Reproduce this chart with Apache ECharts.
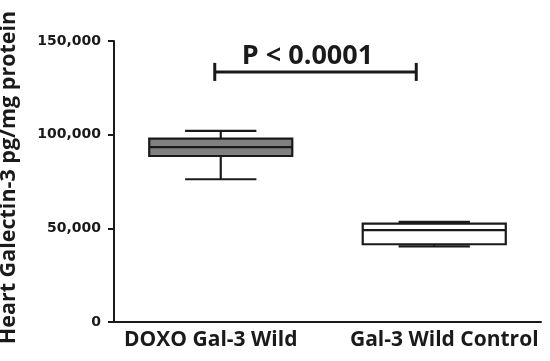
<!DOCTYPE html>
<html>
<head>
<meta charset="utf-8">
<script src="https://cdn.jsdelivr.net/npm/echarts@6/dist/echarts.min.js"></script>
<style>
html,body{margin:0;padding:0;background:#fff;}
#chart{width:550px;height:361px;}
</style>
</head>
<body>
<div id="chart"></div>
<script>
// values
var categories = ['DOXO Gal-3 Wild', 'Gal-3 Wild Control'];
var whiskerLow = [76200, 40400];
var q1 = [88600, 41500];
var median = [93300, 49000];
var q3 = [97900, 52500];
var whiskerHigh = [102000, 53400];
var yTicks = [0, 50000, 100000, 150000];
var pLabel = 'P < 0.0001';
var pLevel = 133500;

var boxFills = ['#808080', '#ffffff'];

var boxData = [];
for (var i = 0; i < categories.length; i++) {
    boxData.push([i, whiskerLow[i], q1[i], median[i], q3[i], whiskerHigh[i]]);
}

function renderBox(params, api) {
    var idx = api.value(0);
    var lo = api.coord([idx, api.value(1)]);
    var b1 = api.coord([idx, api.value(2)]);
    var md = api.coord([idx, api.value(3)]);
    var b3 = api.coord([idx, api.value(4)]);
    var hi = api.coord([idx, api.value(5)]);
    var band = api.size([1, 0])[0];
    var half = band * 0.335;
    var cap = band * 0.167;
    var x = lo[0];
    var line = {stroke: '#1a1a1a', lineWidth: 2.2};
    return {
        type: 'group',
        children: [
            {type: 'line', shape: {x1: x, y1: hi[1], x2: x, y2: b3[1]}, style: line},
            {type: 'line', shape: {x1: x, y1: b1[1], x2: x, y2: lo[1]}, style: line},
            {type: 'line', shape: {x1: x - cap, y1: hi[1], x2: x + cap, y2: hi[1]}, style: line},
            {type: 'line', shape: {x1: x - cap, y1: lo[1], x2: x + cap, y2: lo[1]}, style: line},
            {type: 'rect', shape: {x: x - half, y: b3[1], width: half * 2, height: b1[1] - b3[1]},
                style: {fill: boxFills[idx], stroke: '#1a1a1a', lineWidth: 2.2}},
            {type: 'line', shape: {x1: x - half, y1: md[1], x2: x + half, y2: md[1]}, style: line}
        ]
    };
}

function renderBracket(params, api) {
    var a = api.coord([api.value(0), api.value(2)]);
    var b = api.coord([api.value(1), api.value(2)]);
    var x1 = a[0] - 6, x2 = b[0] - 18, y = a[1];
    var st = {stroke: '#1a1a1a', lineWidth: 3};
    return {
        type: 'group',
        children: [
            {type: 'line', shape: {x1: x1, y1: y, x2: x2, y2: y}, style: st},
            {type: 'line', shape: {x1: x1, y1: y - 9, x2: x1, y2: y + 9}, style: st},
            {type: 'line', shape: {x1: x2, y1: y - 9, x2: x2, y2: y + 9}, style: st},
            {type: 'text', x: (x1 + x2) / 2 - 8, y: y - 16,
                style: {text: pLabel, fill: '#1a1a1a', font: 'bold 27px "Open Sans"',
                    align: 'center', verticalAlign: 'middle'}}
        ]
    };
}

var myChart = echarts.init(document.getElementById('chart'));
myChart.setOption({
    animation: false,
    grid: {left: 114, right: 9, top: 41, bottom: 39, containLabel: false, outerBoundsMode: 'none'},
    xAxis: {
        type: 'category',
        data: categories,
        boundaryGap: true,
        axisLine: {lineStyle: {color: '#1a1a1a', width: 2}},
        axisTick: {alignWithLabel: true, length: 5, lineStyle: {color: '#1a1a1a', width: 2}},
        axisLabel: {
            interval: 0, hideOverlap: false, margin: 8,
            formatter: function (v, i) {
                return (i === 0 ? '{a|' : '{b|') + v + '}';
            },
            rich: {
                a: {color: '#1a1a1a', fontFamily: 'Open Sans', fontWeight: 'bold', fontSize: 21, padding: [0, 20, 0, 0]},
                b: {color: '#1a1a1a', fontFamily: 'Open Sans', fontWeight: 'bold', fontSize: 21, padding: [0, 0, 0, 20]}
            }
        },
        splitLine: {show: false}
    },
    yAxis: {
        type: 'value',
        min: 0,
        max: 150000,
        interval: 50000,
        name: 'Heart Galectin-3 pg/mg protein',
        nameLocation: 'middle',
        nameGap: 94,
        nameTextStyle: {color: '#1a1a1a', fontFamily: 'Open Sans', fontWeight: 'bold', fontSize: 21.5,
            padding: [0, 0, 0, 8]},
        axisLine: {show: true, lineStyle: {color: '#1a1a1a', width: 2}},
        axisTick: {show: true, length: 6, lineStyle: {color: '#1a1a1a', width: 2}},
        axisLabel: {
            color: '#1a1a1a', fontFamily: 'DejaVu Sans', fontWeight: 'bold', fontSize: 14, margin: 13,
            formatter: function (v) {
                return yTicks.indexOf(v) >= 0 ? v.toLocaleString('en-US') : '';
            }
        },
        splitLine: {show: false}
    },
    series: [
        {
            type: 'custom',
            renderItem: renderBox,
            encode: {x: 0, y: [1, 2, 3, 4, 5]},
            data: boxData,
            z: 3
        },
        {
            type: 'custom',
            renderItem: renderBracket,
            encode: {x: [0, 1], y: 2},
            data: [[0, 1, pLevel]],
            z: 4
        }
    ]
});
</script>
</body>
</html>
